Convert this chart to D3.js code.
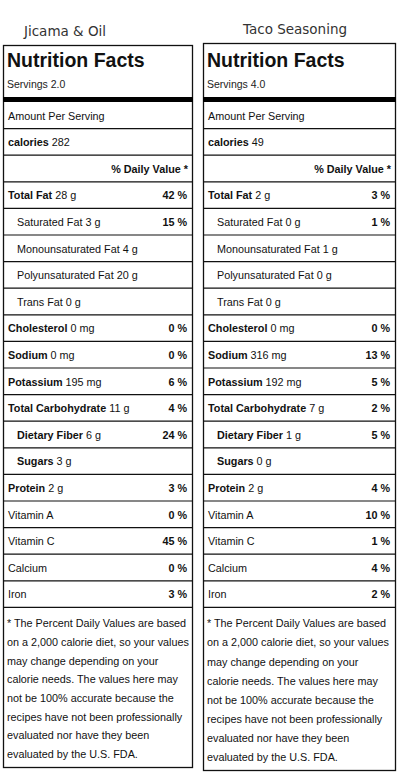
<!DOCTYPE html><html><head><meta charset="utf-8"><script src="https://cdn.jsdelivr.net/npm/d3@7"></script>
<style>body{margin:0;background:#fff}</style></head><body><svg id="c" width="400" height="775"></svg>
<script>
const titles=["Jicama & Oil","Taco Seasoning"];
const servings=["2.0","4.0"];
const calories=[282,49];
const nutrients=["Total Fat","Saturated Fat","Monounsaturated Fat","Polyunsaturated Fat","Trans Fat","Cholesterol","Sodium","Potassium","Total Carbohydrate","Dietary Fiber","Sugars","Protein","Vitamin A","Vitamin C","Calcium","Iron"];
const units=["g","g","g","g","g","mg","mg","mg","g","g","g","g","","","",""];
const boldName=[1,0,0,0,0,1,1,1,1,1,1,1,0,0,0,0];
const indent=[0,1,1,1,1,0,0,0,0,1,1,0,0,0,0,0];
const amountsA=[28,3,4,20,0,0,0,195,11,6,3,2,null,null,null,null];
const amountsB=[2,0,1,0,0,0,316,192,7,1,0,2,null,null,null,null];
const dvA=[42,15,null,null,null,0,0,6,4,24,null,3,0,45,0,3];
const dvB=[3,1,null,null,null,0,13,5,2,5,null,4,10,1,4,2];
const footnote=["* The Percent Daily Values are based","on a 2,000 calorie diet, so your values","may change depending on your","calorie needs. The values here may","not be 100% accurate because the","recipes have not been professionally","evaluated nor have they been","evaluated by the U.S. FDA."];

const svg=d3.select("#c");
const F="'Liberation Sans',Arial,sans-serif";
const panels=[{x:3,w:190,top:45,bottom:768,tx:65,ty:36,amt:amountsA,dv:dvA},{x:203,w:193,top:43,bottom:771,tx:295,ty:34,amt:amountsB,dv:dvB}];
panels.forEach((p,i)=>{
  const g=svg.append("g").attr("transform",`translate(${p.x},0)`);
  const W=p.w, H=p.bottom-p.top;
  svg.append("text").attr("x",p.tx).attr("y",p.ty).attr("text-anchor","middle")
    .attr("font-family","'DejaVu Sans',sans-serif").attr("font-size",13.5).attr("fill","#333").text(titles[i]);
  g.append("rect").attr("x",0.5).attr("y",p.top+0.5).attr("width",W-1).attr("height",H-1).attr("fill","none").attr("stroke","#111").attr("stroke-width",1.3);
  g.append("text").attr("x",4).attr("y",67).attr("font-family",F).attr("font-weight","bold").attr("font-size",19.5).attr("fill","#111").text("Nutrition Facts");
  g.append("text").attr("x",4).attr("y",88).attr("font-family",F).attr("font-size",10.5).attr("fill","#222").text("Servings "+servings[i]);
  g.append("rect").attr("x",0).attr("y",97).attr("width",W).attr("height",5).attr("fill","#000");
  const rowH=26.6, y0=102;
  const rows=[{k:"amount"},{k:"cal"},{k:"dvh"}].concat(nutrients.map((n,j)=>({k:"n",j})));
  const y=d3.scaleLinear().domain([0,rows.length]).range([y0,y0+rowH*rows.length]);
  rows.forEach((r,ri)=>{
    const ty=y(ri)+17.5;
    g.append("line").attr("x1",0).attr("x2",W).attr("y1",y(ri+1)).attr("y2",y(ri+1)).attr("stroke","#111").attr("stroke-width",1.2);
    const t=g.append("text").attr("y",ty).attr("font-family",F).attr("font-size",10.8).attr("fill","#111");
    if(r.k=="amount"){t.attr("x",5).text("Amount Per Serving");}
    else if(r.k=="cal"){t.attr("x",5);t.append("tspan").attr("font-weight","bold").text("calories");t.append("tspan").text(" "+calories[i]);}
    else if(r.k=="dvh"){t.attr("x",W-5).attr("text-anchor","end").attr("font-weight","bold").text("% Daily Value *");}
    else{
      const j=r.j;
      t.attr("x",indent[j]?14:5);
      t.append("tspan").attr("font-weight",boldName[j]?"bold":"normal").text(nutrients[j]);
      if(p.amt[j]!=null)t.append("tspan").text(" "+p.amt[j]+" "+units[j]);
      if(p.dv[j]!=null)g.append("text").attr("x",W-6).attr("y",ty).attr("text-anchor","end").attr("font-family",F).attr("font-weight","bold").attr("font-size",10.8).attr("fill","#111").text(p.dv[j]+" %");
    }
  });
  const fy=y(rows.length);
  footnote.forEach((l,k)=>g.append("text").attr("x",4).attr("y",fy+20+k*(p.bottom-fy-30)/7).attr("font-family",F).attr("font-size",10.8).attr("fill","#111").text(l));
});
</script></body></html>
